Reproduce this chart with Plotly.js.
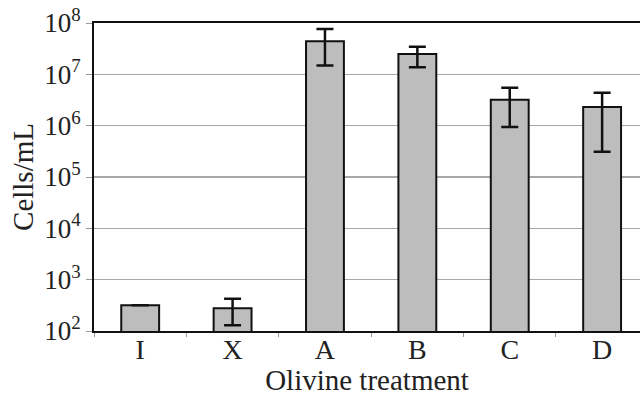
<!DOCTYPE html>
<html>
<head>
<meta charset="utf-8">
<script src="https://cdn.plot.ly/plotly-3.0.1.min.js"></script>
<style>html,body{margin:0;padding:0;background:#fff}#chart{width:640px;height:396px}</style>
</head>
<body>
<div id="chart"></div>
<script>
const categories = ["I", "X", "A", "B", "C", "D"];
const cellCounts = [316, 277, 4.4e7, 2.5e7, 3.2e6, 2.3e6];
const errorUpper = [null, 427, 7.6e7, 3.45e7, 5.5e6, 4.4e6];
const errorLower = [null, 129, 1.48e7, 1.38e7, 9.4e5, 3.1e5];
const yTickVals = [1e2, 1e3, 1e4, 1e5, 1e6, 1e7, 1e8];
const yTickText = ["10<sup>2</sup>", "10<sup>3</sup>", "10<sup>4</sup>", "10<sup>5</sup>", "10<sup>6</sup>", "10<sup>7</sup>", "10<sup>8</sup>"];

const plus = cellCounts.map((v, i) => errorUpper[i] === null ? null : errorUpper[i] - v);
const minus = cellCounts.map((v, i) => errorLower[i] === null ? null : v - errorLower[i]);

const FONT = "Liberation Serif, serif";

const trace = {
  type: "bar",
  x: categories,
  y: cellCounts,
  width: 0.41,
  marker: {color: "#bdbdbd", line: {color: "#111", width: 2}},
  error_y: {
    type: "data",
    symmetric: false,
    array: plus,
    arrayminus: minus,
    visible: true,
    color: "#111",
    thickness: 2.5,
    width: 8.5
  },
  hoverinfo: "skip"
};

const layout = {
  width: 640,
  height: 396,
  margin: {l: 94, r: 0, t: 23, b: 65},
  paper_bgcolor: "#fff",
  plot_bgcolor: "#fff",
  showlegend: false,
  font: {family: FONT, color: "#222", size: 22},
  xaxis: {
    type: "category",
    range: [-0.5, 5.41],
    showline: true,
    linecolor: "#111",
    linewidth: 2,
    mirror: true,
    ticks: "outside",
    tickson: "boundaries",
    ticklen: 4,
    tickcolor: "#999",
    ticklabelstandoff: -8,
    tickfont: {size: 28, family: FONT, color: "#222"},
    showgrid: false,
    title: {text: "Olivine treatment", font: {size: 29, family: FONT, color: "#222"}, standoff: 6}
  },
  yaxis: {
    type: "log",
    range: [2, 8],
    tickvals: yTickVals,
    ticktext: yTickText,
    showline: true,
    linecolor: "#111",
    linewidth: 2,
    ticks: "outside",
    ticklen: 6,
    tickcolor: "#999",
    tickfont: {size: 27, family: FONT, color: "#222"},
    showgrid: true,
    gridcolor: "#a8a8a8",
    gridwidth: 1.5,
    zeroline: false,
    title: {text: "Cells/mL", font: {size: 29, family: FONT, color: "#222"}, standoff: 2}
  }
};

Plotly.newPlot("chart", [trace], layout, {staticPlot: true, displayModeBar: false});
</script>
</body>
</html>
